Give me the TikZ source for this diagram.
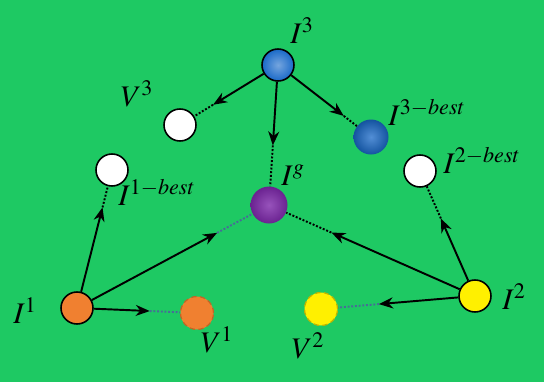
\documentclass[tikz,border=0pt]{standalone}
\usepackage{xcolor}
\usepackage{mathptmx}
\usepackage{tikz}
\usetikzlibrary{arrows.meta,positioning,calc}

\definecolor{bggreen}{RGB}{30,201,99}
\definecolor{iblue}{RGB}{25,105,200}
\definecolor{iorange}{RGB}{240,128,48}
\definecolor{iyellow}{RGB}{255,240,0}
\definecolor{ipurple}{RGB}{125,40,170}
\definecolor{itrail}{RGB}{70,110,150}

\begin{document}
\begin{tikzpicture}[
  ball/.style={circle, draw=black, line width=0.9pt, inner sep=0pt, minimum size=0.64cm},
  whiteball/.style={ball, fill=white},
  softball/.style={circle, inner sep=0pt, minimum size=0.70cm, draw=none},
  vball/.style={circle, inner sep=0pt, minimum size=0.66cm, densely dashed, line width=0.7pt},
  lbl/.style={inner sep=0pt, font=\fontsize{17}{20}\selectfont},
  arrow/.style={-{Stealth[length=2.8mm,width=2.2mm,inset=0.9mm]}, line width=1.1pt},
  trail/.style={densely dotted, line width=1.1pt}
]
\useasboundingbox (0,0) rectangle (10.88,7.64);
\fill[bggreen] (0,0) rectangle (10.88,7.64);

% points of the search
\node[ball, inner color=iblue!60!white, outer color=iblue] (I3) at (5.56,6.34) {};
\node[whiteball] (V3) at (3.60,5.14) {};
\node[softball, inner color=iblue!75!white, outer color=iblue!80!black] (I3best) at (7.42,4.90) {};
\node[softball, minimum size=0.74cm, inner color=ipurple!80!white, outer color=ipurple!85!black] (Ig) at (5.38,3.54) {};
\node[whiteball] (I1best) at (2.24,4.24) {};
\node[whiteball] (I2best) at (8.40,4.22) {};
\node[ball, fill=iorange] (I1) at (1.54,1.48) {};
\node[vball, fill=iorange, draw=iorange!80!black] (V1) at (3.94,1.38) {};
\node[vball, fill=iyellow, draw=iyellow!75!black] (V2) at (6.42,1.46) {};
\node[ball, fill=iyellow] (I2) at (9.50,1.72) {};

% labels
\node[lbl] (lI3) at (6.04,7.02) {$I^{3}$};
\node[lbl] (lV3) at (2.74,5.76) {$V^{3}$};
\node[lbl] (lI3best) at (8.54,5.40) {$I^{3-best}$};
\node[lbl] (lIg) at (5.86,4.14) {$I^{g}$};
\node[lbl] (lI1best) at (3.14,3.80) {$I^{1-best}$};
\node[lbl] (lI2best) at (9.64,4.44) {$I^{2-best}$};
\node[lbl] (lI1) at (0.50,1.42) {$I^{1}$};
\node[lbl] (lV1) at (4.34,0.84) {$V^{1}$};
\node[lbl] (lV2) at (6.16,0.72) {$V^{2}$};
\node[lbl] (lI2) at (10.28,1.70) {$I^{2}$};

% moves: solid arrow, then dotted rest of the way
\path (I3) -- coordinate[pos=0.73] (a3v) (V3);
\draw[arrow] (I3) -- (a3v);
\draw[trail] (a3v) -- (V3);
\path (I3) -- coordinate[pos=0.80] (a3b) (I3best);
\draw[arrow] (I3) -- (a3b);
\draw[trail] (a3b) -- (I3best);
\path (I3) -- coordinate[pos=0.61] (a3g) (Ig);
\draw[arrow] (I3) -- (a3g);
\draw[trail] (a3g) -- (Ig);

\path (I1) -- coordinate[pos=0.80] (a1b) (I1best);
\draw[arrow] (I1) -- (a1b);
\draw[trail] (a1b) -- (I1best);
\path (I1) -- coordinate[pos=0.78] (a1g) (Ig);
\draw[arrow] (I1) -- (a1g);
\draw[trail, itrail] (a1g) -- (Ig);
\path (I1) -- coordinate[pos=0.65] (a1v) (V1);
\draw[arrow] (I1) -- (a1v);
\draw[trail, itrail] (a1v) -- (V1);

\path (I2) -- coordinate[pos=0.66] (a2b) (I2best);
\draw[arrow] (I2) -- (a2b);
\draw[trail] (a2b) -- (I2best);
\path (I2) -- coordinate[pos=0.74] (a2g) (Ig);
\draw[arrow] (I2) -- (a2g);
\draw[trail] (a2g) -- (Ig);
\path (I2) -- coordinate[pos=0.66] (a2v) (V2);
\draw[arrow] (I2) -- (a2v);
\draw[trail, itrail] (a2v) -- (V2);
\end{tikzpicture}
\end{document}
